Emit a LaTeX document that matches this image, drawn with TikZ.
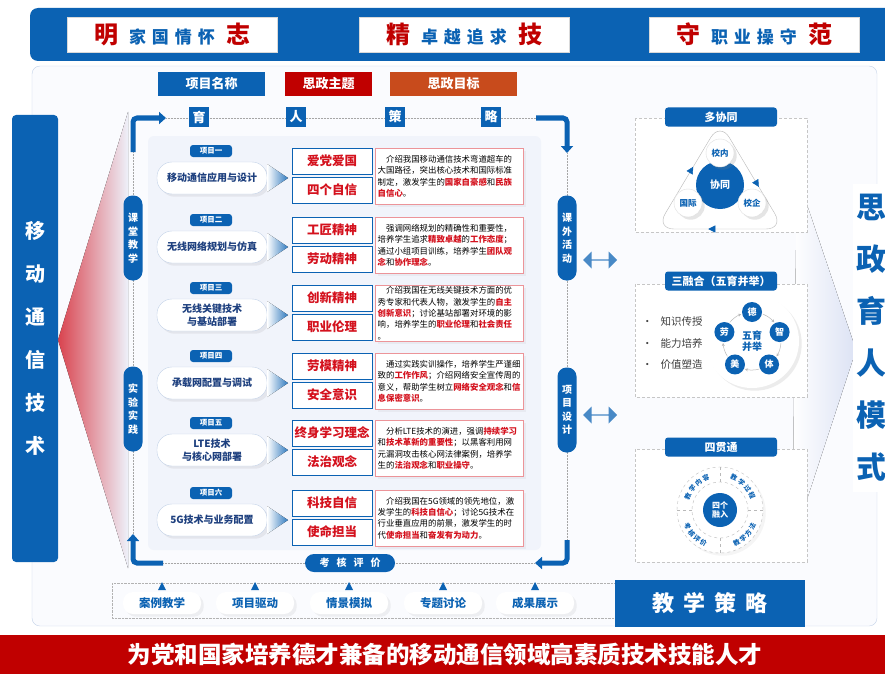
\documentclass[tikz,border=0pt]{standalone}
\usepackage{fontspec}
\setmainfont{Noto Sans CJK SC}
\usepackage{xcolor}
\usetikzlibrary{shapes.geometric, shapes.arrows, arrows.meta, positioning, shadows, decorations.markings, decorations.text, calc}

\definecolor{mblue}{HTML}{0B62B3}
\definecolor{hred}{HTML}{C00000}
\definecolor{horange}{HTML}{C84B1C}
\definecolor{tred}{HTML}{D4111D}
\definecolor{navy}{HTML}{1D3F7E}
\definecolor{pline}{HTML}{C3D2E8}
\definecolor{lav}{HTML}{DCE2F4}
\definecolor{panelbg}{HTML}{FAFBFE}
\definecolor{rowbg}{HTML}{F1F4FB}
\definecolor{fan}{HTML}{D9434E}

\newcommand{\hl}[1]{\textcolor{tred}{\bfseries #1}}
\newcommand{\fs}[2]{\fontsize{#1}{#2}\selectfont}
\newcommand{\bantext}[3]{\textcolor{hred}{\fs{24}{24}\bfseries #1}\hspace{11pt}\textcolor{mblue}{\fs{17}{17}\bfseries #2}\hspace{11pt}\textcolor{hred}{\fs{24}{24}\bfseries #3}}

\begin{document}
\begin{tikzpicture}[x=1pt,y=-1pt,>=Triangle,
  banbox/.style={fill=white,draw=gray!30,minimum width=210,minimum height=35,inner sep=0pt},
  hbox/.style={fill=#1,text=white,font=\fs{13}{14}\bfseries,minimum height=24,inner sep=0pt},
  sq/.style={fill=mblue,text=white,font=\fs{13}{13}\bfseries,minimum size=20,inner sep=0pt},
  tag/.style={fill=mblue,rounded corners=3,text=white,font=\fs{7.5}{8}\bfseries,minimum width=42,minimum height=12,inner sep=0pt},
  pill/.style={draw=pline,fill=white,rounded corners=15,minimum width=110,minimum height=32,inner sep=1pt,align=center,text=navy,font=\fs{10}{12.5}\bfseries,drop shadow={opacity=0.12}},
  theme/.style={draw=mblue,line width=1pt,fill=white,minimum width=80,minimum height=26,inner sep=0pt,text=tred,font=\fs{12.5}{13}\bfseries},
  descbox/.style={draw=tred!45,fill=white,anchor=north west,minimum height=56,text width=143,inner xsep=2.5pt,inner ysep=1pt,align=left,font=\fs{8.4}{11.3}\selectfont,drop shadow={opacity=0.08}},
  vpill/.style={fill=mblue,rounded corners=9,minimum width=19,minimum height=85,inner sep=0pt,align=center,text=white,font=\fs{10}{13.5}\bfseries},
  bracket/.style={mblue,line width=5pt,rounded corners=4,-{Triangle[length=7pt,width=12pt]}},
  guide/.style={densely dotted,gray!70,line width=0.5pt},
  dpanel/.style={densely dashed,gray!45,fill=white},
  ptitle/.style={fill=mblue,rounded corners=3,text=white,font=\fs{11}{12}\bfseries,minimum width=112,minimum height=19,inner sep=0pt},
  wcirc/.style={circle,fill=white,draw=gray!25,text=mblue,font=\fs{8.5}{9}\bfseries,minimum size=28,inner sep=0pt,drop shadow={opacity=0.2}},
  bcirc/.style={circle,fill=mblue,text=white,font=\fs{9}{9}\bfseries,minimum size=20,inner sep=0pt},
  spill/.style={fill=white,rounded corners=10,text=mblue,font=\fs{11.5}{12}\bfseries,minimum width=78,minimum height=22,inner sep=0pt,drop shadow={opacity=0.1}},
  arctext/.style={decorate,decoration={text along path,text align=center,text={|\fs{6.6}{7}\bfseries\color{mblue}|#1}}}]
  \useasboundingbox (0,0) rectangle (885,674);
  \clip (0,0) rectangle (885,674);

  % top banner
  \fill[mblue,rounded corners=8] (30,8) rectangle (900,61);
  \node[banbox] (ban1) at (172,34.5) {\bantext{明}{家\hspace{6pt}国\hspace{6pt}情\hspace{6pt}怀}{志}};
  \node[banbox] (ban2) at (464,34.5) {\bantext{精}{卓\hspace{6pt}越\hspace{6pt}追\hspace{6pt}求}{技}};
  \node[banbox] (ban3) at (754,34.5) {\bantext{守}{职\hspace{6pt}业\hspace{6pt}操\hspace{6pt}守}{范}};

  % main panel
  \draw[pline,fill=panelbg,rounded corners=8] (32,66) rectangle (877,626);
  \fill[left color=white,right color=lav] (797,175) -- (856,350) -- (792,545) -- cycle;
  \fill[left color=fan,right color=lav!50] (58,340) -- (128,112) -- (128,568) -- cycle;
  \node[fill=mblue,rounded corners=4,minimum width=46,minimum height=447,inner sep=0pt,text=white,font=\fs{20}{43}\bfseries,align=center] (course) at (35,338.5) {移\\动\\通\\信\\技\\术};

  % headers
  \node[hbox=mblue,minimum width=107] (hname) at (211.5,84) {项目名称};
  \node[hbox=hred,minimum width=87] (htheme) at (328.5,84) {思政主题};
  \node[hbox=horange,minimum width=127] (hgoal) at (453.5,84) {思政目标};

  \fill[rowbg,rounded corners=6] (148,136) rectangle (541,550);

  % loop of brackets
  \coordinate (lt0) at (133,152); \coordinate (lt1) at (166,118);
  \coordinate (rt0) at (536,118); \coordinate (rt1) at (567,153);
  \coordinate (rb0) at (567,540); \coordinate (rb1) at (535,563);
  \coordinate (lb0) at (163,563); \coordinate (lb1) at (133,534);
  \draw[guide] (lt1) -- (rt0);
  \draw[guide] (lt0) -- (lb1);
  \draw[guide] (rt1) -- (rb0);
  \draw[guide] (lb0) -- (rb1);
  \draw[bracket] (lt0) |- (lt1);
  \draw[bracket] (rt0) -| (rt1);
  \draw[bracket] (rb0) |- (rb1);
  \draw[bracket] (lb0) -| (lb1);
  \foreach \c/\x [count=\i] in {育/199,人/296,策/395,略/491}
    \node[sq] (yr\i) at (\x,117) {\c};

  \node[vpill] (ktjx) at (133,238) {课\\堂\\教\\学};
  \node[vpill] (sysj) at (133,409) {实\\验\\实\\践};
  \node[vpill] (kwhd) at (567,238) {课\\外\\活\\动};
  \node[vpill] (xmsj) at (567,410) {项\\目\\设\\计};

  % six projects
  \foreach \y/\tg/\nm/\ta/\tb/\ds [count=\i] in {
    148/项目一/{移动通信应用与设计}/爱党爱国/四个自信/{\hspace*{1em}介绍我国移动通信技术弯道超车的\\大国路径，突出核心技术和国际标准\\制定，激发学生的\hl{国家自豪感}和\hl{民族}\\\hl{自信心}。},
    217/项目二/{无线网络规划与仿真}/工匠精神/劳动精神/{\hspace*{1em}强调网络规划的精确性和重要性，\\培养学生追求\hl{精致卓越}的\hl{工作态度}；\\通过小组项目训练，培养学生\hl{团队观}\\\hl{念}和\hl{协作理念}。},
    285/项目三/{无线关键技术\\与基站部署}/创新精神/职业伦理/{\hspace*{1em}介绍我国在无线关键技术方面的优\\秀专家和代表人物，激发学生的\hl{自主}\\\hl{创新意识}；讨论基站部署对环境的影\\响，培养学生的\hl{职业伦理}和\hl{社会责任}\\。},
    353/项目四/{承载网配置与调试}/劳模精神/安全意识/{\hspace*{1em}通过实践实训操作，培养学生严谨细\\致的\hl{工作作风}；介绍网络安全宣传周的\\意义，帮助学生树立\hl{网络安全观念}和\hl{信}\\\hl{息保密意识}。},
    420/项目五/{LTE技术\\与核心网部署}/终身学习理念/法治观念/{\hspace*{1em}分析LTE技术的演进，强调\hl{持续学习}\\和\hl{技术革新的重要性}；以黑客利用网\\元漏洞攻击核心网法律案例，培养学\\生的\hl{法治观念}和\hl{职业操守}。},
    490/项目六/{5G技术与业务配置}/科技自信/使命担当/{\hspace*{1em}介绍我国在5G领域的领先地位，激\\发学生的\hl{科技自信心}；讨论5G技术在\\行业垂直应用的前景，激发学生的时\\代\hl{使命担当}和\hl{奋发有为动力}。}} {
    \node[tag] (tag\i) at (211,\y+3) {\tg};
    \node[pill] (nm\i) at (212,\y+30) {\nm};
    \fill[left color=white,right color=mblue!85] (267,\y+16) -- (288,\y+30) -- (267,\y+44) -- cycle;
    \node[theme] (ta\i) at (332,\y+13) {\ta};
    \node[theme] (tb\i) at (332,\y+42) {\tb};
    \node[descbox] (ds\i) at (375,\y) {\ds};
  }

  \node[fill=mblue,rounded corners=9,minimum width=90,minimum height=18,inner sep=0pt,text=white,font=\fs{10}{10}\bfseries] (khpj) at (350,563) {考\hspace{7pt}核\hspace{7pt}评\hspace{7pt}价};

  % links to the right
  \node[double arrow,double arrow head extend=3pt,minimum height=34,minimum width=17,inner sep=0pt,left color=mblue!75,middle color=mblue!30,right color=mblue!75] (da1) at (600,260) {};
  \node[double arrow,double arrow head extend=3pt,minimum height=34,minimum width=17,inner sep=0pt,left color=mblue!75,middle color=mblue!30,right color=mblue!75] (da2) at (600,415) {};

  % panel: duo xie tong
  \draw[dpanel] (635,118) rectangle (807,232);
  \node[ptitle] (pt1) at (721,117) {多协同};
  \draw[gray!55,rounded corners=18,postaction={decorate},decoration={markings,
      mark=at position 0.17 with {\arrow{Triangle[length=7pt,width=7pt,color=mblue]}},
      mark=at position 0.5 with {\arrow{Triangle[length=7pt,width=7pt,color=mblue]}},
      mark=at position 0.83 with {\arrow{Triangle[length=7pt,width=7pt,color=mblue]}}}]
    (720,122) -- (784,229) -- (656,229) -- cycle;
  \node[circle,fill=mblue,text=white,minimum size=48,inner sep=0pt,font=\fs{10}{10}\bfseries] (xt) at (720,185) {协同};
  \node[wcirc] (xn) at (720,153) {校内};
  \node[wcirc] (gj) at (688,203) {国际};
  \node[wcirc] (xq) at (752,203) {校企};

  % panel: san rong he
  \draw[dpanel] (635,284) rectangle (807,397);
  \node[ptitle] (pt2) at (721,281) {三融合（五育并举）};
  \foreach \t/\y [count=\i] in {知识传授/322,能力培养/343,价值塑造/365}
    \node[anchor=west,text=black!75,font=\fs{10.5}{11}\selectfont,inner sep=0pt] (sr\i) at (642,\y) {•\hspace{8pt}\t};
  \coordinate (wc) at (752,341);
  \node[circle,fill=white,minimum size=94,drop shadow={opacity=0.15}] (wuyu) at (wc) {};
  \node[text=mblue,font=\fs{10}{11}\bfseries,align=center,inner sep=0pt] (wuyuc) at (wc) {五育\\并举};
  \foreach \a in {90,18,-54,-126,162}
    \draw[gray!55,line width=0.5pt,-{Stealth[length=3pt,width=3pt]}] ($(wc)+(\a-22:29pt)$) arc[start angle=\a-22,end angle=\a-50,radius=29pt];
  \foreach \c/\a [count=\i] in {德/90,智/18,体/-54,美/-126,劳/162}
    \node[bcirc] (wy\i) at ($(wc)+(\a:29pt)$) {\c};

  % panel: si guan tong
  \draw[dpanel] (635,449) rectangle (807,562);
  \node[ptitle] (pt3) at (721,447) {四贯通};
  \coordinate (sg) at (720,510);
  \node[circle,draw=gray!50,dashed,fill=white,minimum size=86,drop shadow={opacity=0.08}] (sgout) at (sg) {};
  \node[circle,draw=gray!55,dashed,minimum size=56] (sgin) at (sg) {};
  \foreach \a in {0,90,180,270}
    \draw[gray!55,dashed] ($(sg)+(\a:28pt)$) -- ($(sg)+(\a:43pt)$);
  \node[circle,fill=mblue,text=white,minimum size=34,inner sep=0pt,align=center,font=\fs{8}{9.5}\bfseries] (sgc) at (sg) {四个\\融入};
  \path[arctext=教 学 内 容] ($(sg)+(178:32.5pt)$) arc[start angle=178,end angle=92,radius=32.5pt];
  \path[arctext=教 学 过 程] ($(sg)+(88:32.5pt)$) arc[start angle=88,end angle=2,radius=32.5pt];
  \path[arctext=考 核 评 价] ($(sg)+(-178:39pt)$) arc[start angle=-178,end angle=-92,radius=39pt];
  \path[arctext=教 学 方 法] ($(sg)+(-88:39pt)$) arc[start angle=-88,end angle=-2,radius=39pt];

  % teaching strategy row
  \draw[densely dotted,gray!60] (112,583) rectangle (615,618);
  \foreach \t/\x [count=\i] in {案例教学/162,项目驱动/255,情景模拟/349,专题讨论/443,成果展示/535} {
    \fill[mblue] (\x-4,590) -- (\x+4,590) -- (\x,582) -- cycle;
    \node[spill] (st\i) at (\x,603) {\t};}
  \node[fill=mblue,minimum width=190,minimum height=47,inner sep=0pt,text=white,font=\fs{22}{22}\bfseries] (jxcl) at (710,603.5) {教\hspace{9pt}学\hspace{9pt}策\hspace{9pt}略};

  % right title
  \node[fill=white,inner xsep=3pt,inner ysep=10pt,text=mblue,font=\fs{30}{52}\bfseries,align=center] (mode) at (871,338) {思\\政\\育\\人\\模\\式};

  % bottom bar
  \fill[hred] (0,635) rectangle (885,674);
  \node[text=white,font=\fs{23.5}{24}\bfseries,inner sep=0pt] (goal) at (445,655) {为党和国家培养德才兼备的移动通信领域高素质技术技能人才};
\end{tikzpicture}
\end{document}
